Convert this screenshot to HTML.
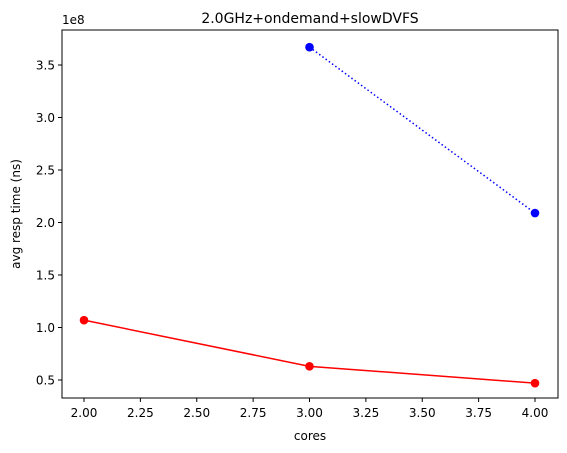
<!DOCTYPE html>
<html><head><meta charset="utf-8"><style>
html,body{margin:0;padding:0;background:#fff;}
svg{display:block;font-family:"DejaVu Sans","Liberation Sans",sans-serif;}
</style></head><body>
<svg id="chart" width="567" height="453" viewBox="0 0 567 453" xmlns="http://www.w3.org/2000/svg"></svg>
<script>
const xTicks = [2.00, 2.25, 2.50, 2.75, 3.00, 3.25, 3.50, 3.75, 4.00];
const xTickLabels = ["2.00","2.25","2.50","2.75","3.00","3.25","3.50","3.75","4.00"];
const yTicks = [0.5, 1.0, 1.5, 2.0, 2.5, 3.0, 3.5];
const yTickLabels = ["0.5","1.0","1.5","2.0","2.5","3.0","3.5"];
const redX = [2, 3, 4];
const redY = [1.07, 0.63, 0.47];
const blueX = [3, 4];
const blueY = [3.67, 2.09];

const L=62, R=558, T=30, B=398;
function xs(v){return 84+(v-2)*225.5;}
function ys(v){return 380-(v-0.5)*105;}
const svg=document.getElementById('chart');
const NS="http://www.w3.org/2000/svg";
function mk(tag,attrs,parent){const e=document.createElementNS(NS,tag);for(const k in attrs)e.setAttribute(k,attrs[k]);(parent||svg).appendChild(e);return e;}

const frame=mk('rect',{x:L,y:T,width:R-L,height:B-T,fill:'none',stroke:'#000','stroke-width':1});



xTicks.forEach((v,i)=>{
  const x=xs(v);
  const t=mk('line',{x1:x,x2:x,y1:B,y2:B+4,stroke:'#000'});
  
  
  const l=mk('text',{x:x,y:B+19,'font-size':12,'text-anchor':'middle',fill:'#000'});
  l.textContent=xTickLabels[i];
  
  
});
yTicks.forEach((v,i)=>{
  const y=ys(v);
  const t=mk('line',{x1:L-4,x2:L,y1:y,y2:y,stroke:'#000'});
  
  
  const l=mk('text',{x:L-7,y:y+4.5,'font-size':12,'text-anchor':'end',fill:'#000'});
  l.textContent=yTickLabels[i];
  
  
});
const off=mk('text',{x:L,y:T-6,'font-size':12,fill:'#000'});
off.textContent='1e8';


const title=mk('text',{x:(L+R)/2,y:T-7,'font-size':14,'text-anchor':'middle',fill:'#000'});
title.textContent='2.0GHz+ondemand+slowDVFS';


const xt=mk('text',{x:(L+R)/2,y:440,'font-size':12,'text-anchor':'middle',fill:'#000'});
xt.textContent='cores';


const yt=mk('text',{x:20,y:(T+B)/2,'font-size':12,'text-anchor':'middle',fill:'#000',transform:'rotate(-90 20 '+((T+B)/2)+')'});
yt.textContent='avg resp time (ns)';



function series(xa,ya,color,dash,name){
  const pts=xa.map((x,i)=>xs(x)+','+ys(ya[i])).join(' ');
  const pl=mk('polyline',{points:pts,fill:'none',stroke:color,'stroke-width':1.5});
  if(dash)pl.setAttribute('stroke-dasharray',dash);
  
  
  xa.forEach((x,i)=>{
    const c=mk('circle',{cx:xs(x),cy:ys(ya[i]),r:4.3,fill:color});
    
    
  });
}
series(redX,redY,'#ff0000',null,'red-series');
series(blueX,blueY,'#0000ff','1.5,2.5','blue-series');
</script>
</body></html>
